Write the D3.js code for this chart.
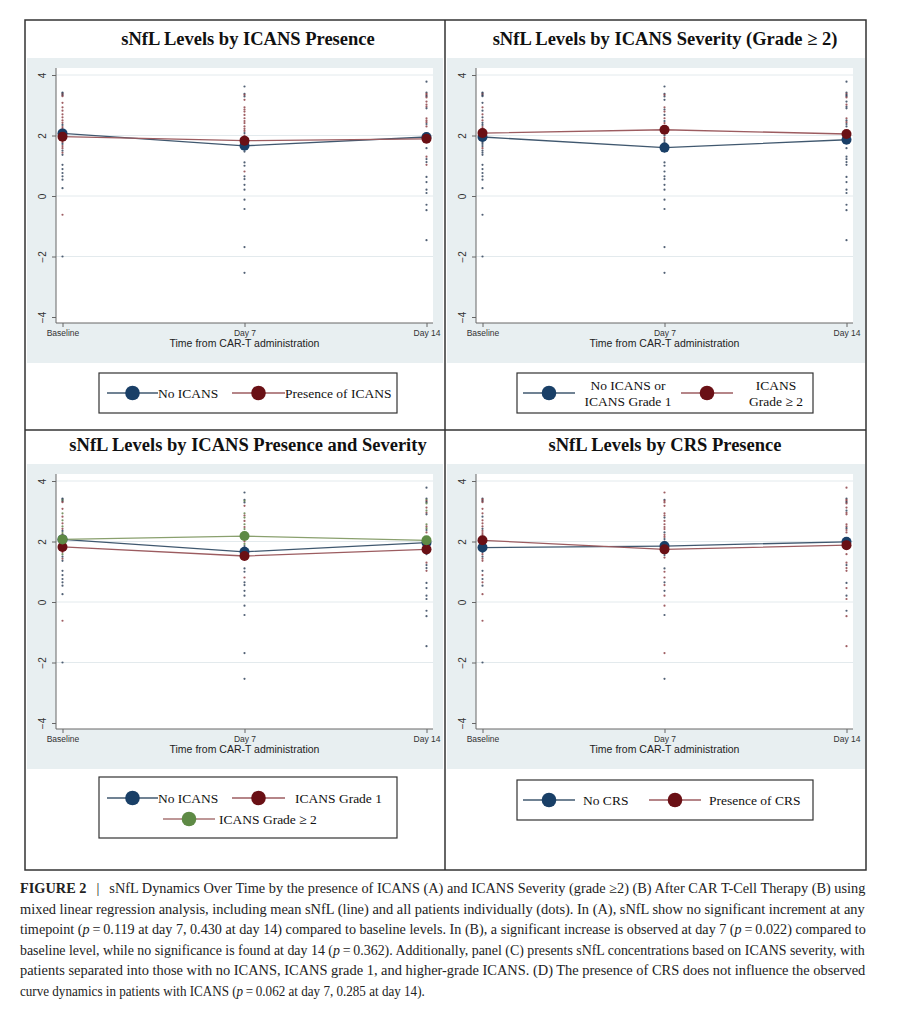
<!DOCTYPE html>
<html>
<head>
<meta charset="utf-8">
<script src="https://cdn.jsdelivr.net/npm/d3@7"></script>
<style>
  body { margin: 0; background: #fff; }
  svg { display: block; }
</style>
</head>
<body>
<svg id="fig" width="906" height="1013"></svg>
<script>
// ---- data ----
const timepoints = ["Baseline", "Day 7", "Day 14"];
const yTicks = [4, 2, 0, -2, -4];

// individual patients (dots), log sNfL at each timepoint
const dotsBaseline = [3.42, 3.39, 3.36, 3.33, 3.30, 3.08, 2.93, 2.82, 2.70, 2.60, 2.50, 2.42, 2.35, 2.28, 2.22, 2.16, 2.10, 2.05, 2.00, 1.95, 1.90, 1.84, 1.78, 1.72, 1.65, 1.58, 1.50, 1.43, 1.36, 1.03, 0.89, 0.76, 0.65, 0.54, 0.26, -0.62, -2.00];
const dotsDay7 = [3.62, 3.38, 3.34, 3.29, 3.18, 2.93, 2.86, 2.79, 2.68, 2.57, 2.48, 2.41, 2.30, 2.22, 2.15, 2.08, 2.00, 1.92, 1.85, 1.78, 1.70, 1.62, 1.55, 1.47, 1.11, 1.00, 0.81, 0.65, 0.56, 0.37, 0.21, -0.12, -0.43, -1.69, -2.54];
const dotsDay14 = [3.78, 3.42, 3.38, 3.34, 3.30, 3.26, 3.12, 3.02, 2.95, 2.90, 2.57, 2.50, 2.44, 2.38, 2.30, 2.08, 2.02, 1.96, 1.90, 1.86, 1.58, 1.30, 1.22, 1.12, 1.03, 0.63, 0.46, 0.21, 0.10, -0.29, -0.47, -1.46];

// ICANS grade of each dot (0 none, 1 grade 1, 2 grade >= 2)
const icansBaseline = [0,0,2,0,1, 1,2,1,2,1, 2,1,0,2,1, 0,1,2,0,1, 0,2,1,0,1, 2,0,1,0, 0,0,0,0,0,0, 1,0];
const icansDay7 = [0,0,2,0,1, 2,1,2,1,2, 1,2,2,1,2, 0,1,2,0,1, 0,1,0,0, 0,0,1,0,0,0,0, 0,0,0,0];
const icansDay14 = [0,0,2,1,0, 2,1,2,1,0, 2,1,2,0,1, 0,2,1,0,2, 0,1,0,0,1, 0,0,0,0,0,0, 0];
// CRS of each dot (0 no, 1 yes)
const crsBaseline = [0,1,1,0,1, 1,1,0,1,1, 1,0,1,1,1, 0,1,1,0,1, 0,1,1,1,0, 1,0,1,1, 0,1,0,1,0,1, 1,0];
const crsDay7 = [1,0,1,1,1, 1,1,0,1,1, 1,1,0,1,1, 0,1,1,1,0, 1,1,0,1, 0,1,1,0,1,0,1, 1,0,1,0];
const crsDay14 = [1,0,1,1,0, 1,1,0,1,1, 1,1,0,1,1, 0,1,1,1,0, 1,1,0,1,1, 0,1,0,1,0,1, 1];

// group means (lines)
const meanNoIcans   = [2.07, 1.66, 1.95];
const meanIcans     = [1.96, 1.83, 1.89];
const meanLowGrade  = [1.95, 1.60, 1.86];
const meanHighGrade = [2.08, 2.19, 2.05];
const meanNoIcansC  = [2.07, 1.66, 1.96];
const meanGrade1    = [1.82, 1.52, 1.74];
const meanGrade2    = [2.07, 2.18, 2.04];
const meanNoCrs     = [1.80, 1.85, 1.99];
const meanCrs       = [2.04, 1.74, 1.88];

const captionLines = [
  [["FIGURE 2", "b"], ["\u2002\u2009|\u2002\u2009sNfL Dynamics Over Time by the presence of ICANS (A) and ICANS Severity (grade \u22652) (B) After CAR T-Cell Therapy (B) using", ""]],
  [["mixed linear regression analysis, including mean sNfL (line) and all patients individually (dots). In (A), sNfL show no significant increment at any", ""]],
  [["timepoint (", ""], ["p", "i"], ["\u2009=\u20090.119 at day 7, 0.430 at day 14) compared to baseline levels. In (B), a significant increase is observed at day 7 (", ""], ["p", "i"], ["\u2009=\u20090.022) compared to", ""]],
  [["baseline level, while no significance is found at day 14 (", ""], ["p", "i"], ["\u2009=\u20090.362). Additionally, panel (C) presents sNfL concentrations based on ICANS severity, with", ""]],
  [["patients separated into those with no ICANS, ICANS grade 1, and higher-grade ICANS. (D) The presence of CRS does not influence the observed", ""]],
  [["curve dynamics in patients with ICANS (", ""], ["p", "i"], ["\u2009=\u20090.062 at day 7, 0.285 at day 14).", ""]]
];
// width each caption line takes in the figure
const captionWidths = [846, 846, 846, 846, 846, 405];

// ---- styles ----
const palette = {
  navy:   { line: "#40586f", marker: "#193f67", dot: "#33445c" },
  maroon: { line: "#9c5c60", marker: "#6a1015", dot: "#8e4248" },
  green:  { line: "#8aa06e", marker: "#5e8a45", dot: "#62824a" }
};
const bandColor = "#e8eff1";
const plotW = 377;

const dots = [];
[dotsBaseline, dotsDay7, dotsDay14].forEach((vals, t) => {
  const ic = [icansBaseline, icansDay7, icansDay14][t];
  const cr = [crsBaseline, crsDay7, crsDay14][t];
  vals.forEach((v, i) => dots.push({ t: timepoints[t], v: v, icans: ic[i], crs: cr[i] }));
});

const panels = [
  { title: "sNfL Levels by ICANS Presence", titleX: 248, titleY: 45,
    bandX0: 27, bandX1: 443, bandTop: 58, axisX: 56,
    series: [{ values: meanNoIcans, c: "navy" }, { values: meanIcans, c: "maroon" }],
    dotColor: d => d.icans > 0 ? "maroon" : "navy",
    legend: { x: 99, y: 373, w: 298, h: 40, items: [
      { c: "navy", lx0: 107, lx1: 158, cy: 393, text: ["No ICANS"], tx: 158, anchor: "start" },
      { c: "maroon", lx0: 232, lx1: 285, cy: 393, text: ["Presence of ICANS"], tx: 285, anchor: "start" } ] } },
  { title: "sNfL Levels by ICANS Severity (Grade \u2265 2)", titleX: 665, titleY: 45,
    bandX0: 447, bandX1: 865, bandTop: 58, axisX: 476,
    series: [{ values: meanLowGrade, c: "navy" }, { values: meanHighGrade, c: "maroon" }],
    dotColor: d => d.icans === 2 ? "maroon" : "navy",
    legend: { x: 517, y: 373, w: 296, h: 40, items: [
      { c: "navy", lx0: 523, lx1: 575, cy: 393, text: ["No ICANS or", "ICANS Grade 1"], tx: 628, anchor: "middle" },
      { c: "maroon", lx0: 681, lx1: 733, cy: 393, text: ["ICANS", "Grade \u2265 2"], tx: 776, anchor: "middle" } ] } },
  { title: "sNfL Levels by ICANS Presence and Severity", titleX: 248, titleY: 451,
    bandX0: 27, bandX1: 443, bandTop: 464, axisX: 56,
    series: [{ values: meanNoIcansC, c: "navy" }, { values: meanGrade1, c: "maroon" }, { values: meanGrade2, c: "green" }],
    dotColor: d => ["navy", "maroon", "green"][d.icans],
    legend: { x: 99, y: 777, w: 298, h: 61, items: [
      { c: "navy", lx0: 107, lx1: 158, cy: 798, text: ["No ICANS"], tx: 158, anchor: "start" },
      { c: "maroon", lx0: 232, lx1: 285, cy: 798, text: ["ICANS Grade 1"], tx: 295, anchor: "start" },
      { c: "green", lx0: 163, lx1: 215, cy: 819, text: ["ICANS Grade \u2265 2"], tx: 219, anchor: "start", lineColor: "#a87474" } ] } },
  { title: "sNfL Levels by CRS Presence", titleX: 665, titleY: 451,
    bandX0: 447, bandX1: 865, bandTop: 464, axisX: 476,
    series: [{ values: meanNoCrs, c: "navy" }, { values: meanCrs, c: "maroon" }],
    dotColor: d => d.crs ? "maroon" : "navy",
    legend: { x: 517, y: 780, w: 296, h: 40, items: [
      { c: "navy", lx0: 523, lx1: 575, cy: 800, text: ["No CRS"], tx: 583, anchor: "start" },
      { c: "maroon", lx0: 649, lx1: 701, cy: 800, text: ["Presence of CRS"], tx: 709, anchor: "start" } ] } }
];

const svg = d3.select("#fig");
svg.append("rect").attr("width", 906).attr("height", 1013).attr("fill", "#fff");

panels.forEach(p => {
  const g = svg.append("g");
  const top = p.bandTop;

  // title
  g.append("text")
    .attr("x", p.titleX).attr("y", p.titleY)
    .attr("text-anchor", "middle")
    .style("font-family", "'Liberation Serif', serif")
    .style("font-weight", "bold").style("font-size", "18.5px")
    .attr("fill", "#111")
    .text(p.title);

  // graph region band + white plot region
  g.append("rect").attr("x", p.bandX0).attr("y", top)
    .attr("width", p.bandX1 - p.bandX0).attr("height", 305).attr("fill", bandColor);
  g.append("rect").attr("x", p.axisX).attr("y", top + 10)
    .attr("width", plotW).attr("height", 255).attr("fill", "#fff");

  const x = d3.scalePoint().domain(timepoints).range([p.axisX + 6.5, p.axisX + plotW - 6.5]);
  const y = d3.scaleLinear().domain([-4, 4]).range([top + 259, top + 17]);

  // gridlines
  g.append("g").selectAll("line").data([4, 2, 0, -2]).join("line")
    .attr("x1", p.axisX).attr("x2", p.axisX + plotW)
    .attr("y1", d => y(d)).attr("y2", d => y(d))
    .attr("stroke", "#e3eaed").attr("stroke-width", 1);

  // axes
  const yAxis = g.append("g").attr("transform", `translate(${p.axisX},0)`)
    .call(d3.axisLeft(y).tickValues(yTicks).tickSize(4).tickSizeOuter(0).tickFormat(d3.format("d")));
  yAxis.select(".domain").remove();
  yAxis.selectAll("line").attr("stroke", "#666");
  yAxis.selectAll("text")
    .attr("x", null).attr("y", null).attr("dy", null)
    .attr("transform", "translate(-13.5,0) rotate(-90)")
    .attr("text-anchor", "middle").attr("dominant-baseline", "central")
    .style("font-family", "'Liberation Sans', Arial, sans-serif").style("font-size", "10px")
    .attr("fill", "#333");
  g.append("line").attr("x1", p.axisX).attr("x2", p.axisX)
    .attr("y1", top + 10).attr("y2", top + 265).attr("stroke", "#666");

  const xAxis = g.append("g").attr("transform", `translate(0,${top + 265})`)
    .call(d3.axisBottom(x).tickSize(4).tickSizeOuter(0));
  xAxis.select(".domain").remove();
  xAxis.selectAll("line").attr("stroke", "#666");
  xAxis.selectAll("text")
    .attr("y", 13).attr("dy", null)
    .style("font-family", "'Liberation Sans', Arial, sans-serif").style("font-size", "8.5px")
    .attr("fill", "#333");
  g.append("line").attr("x1", p.axisX).attr("x2", p.axisX + plotW)
    .attr("y1", top + 265).attr("y2", top + 265).attr("stroke", "#666");

  g.append("text")
    .attr("x", p.axisX + plotW / 2).attr("y", top + 289)
    .attr("text-anchor", "middle")
    .style("font-family", "'Liberation Sans', Arial, sans-serif").style("font-size", "10.5px")
    .attr("fill", "#222")
    .text("Time from CAR-T administration");

  // individual dots
  g.append("g").selectAll("circle").data(dots).join("circle")
    .attr("cx", d => x(d.t)).attr("cy", d => y(d.v)).attr("r", 1.1)
    .attr("fill", d => palette[p.dotColor(d)].dot).attr("opacity", 0.85);

  // mean lines + markers
  const line = d3.line().x((d, i) => x(timepoints[i])).y(d => y(d));
  p.series.forEach(s => {
    g.append("path").datum(s.values).attr("d", line)
      .attr("fill", "none").attr("stroke", palette[s.c].line).attr("stroke-width", 1.3);
  });
  p.series.forEach(s => {
    g.append("g").selectAll("circle").data(s.values).join("circle")
      .attr("cx", (d, i) => x(timepoints[i])).attr("cy", d => y(d)).attr("r", 5)
      .attr("fill", palette[s.c].marker);
  });

  // legend
  const L = p.legend;
  const lg = g.append("g");
  lg.append("rect").attr("x", L.x).attr("y", L.y).attr("width", L.w).attr("height", L.h)
    .attr("fill", "#fff").attr("stroke", "#333").attr("stroke-width", 1.2);
  L.items.forEach(it => {
    lg.append("line").attr("x1", it.lx0).attr("x2", it.lx1).attr("y1", it.cy).attr("y2", it.cy)
      .attr("stroke", it.lineColor || palette[it.c].line).attr("stroke-width", 1.3);
    lg.append("circle").attr("cx", (it.lx0 + it.lx1) / 2).attr("cy", it.cy).attr("r", 7.3)
      .attr("fill", palette[it.c].marker);
    const t = lg.append("text").attr("text-anchor", it.anchor)
      .style("font-family", "'Liberation Serif', serif").style("font-size", "13.5px")
      .attr("fill", "#111");
    const n = it.text.length;
    it.text.forEach((s, k) => {
      t.append("tspan").attr("x", it.tx)
        .attr("y", it.cy + 4.5 + (k - (n - 1) / 2) * 16)
        .text(s);
    });
  });
});

// frame
const frame = svg.append("g").attr("stroke", "#333").attr("stroke-width", 1.5).attr("fill", "none");
frame.append("rect").attr("x", 25).attr("y", 20).attr("width", 841).attr("height", 850);
frame.append("line").attr("x1", 445).attr("x2", 445).attr("y1", 20).attr("y2", 870);
frame.append("line").attr("x1", 25).attr("x2", 866).attr("y1", 430).attr("y2", 430);

// caption: each line squeezed horizontally to the width it has in the figure
const cap = svg.append("g")
  .style("font-family", "'Liberation Serif', serif").style("font-size", "14px")
  .attr("fill", "#222");
captionLines.forEach((segs, i) => {
  const t = cap.append("text").attr("x", 0).attr("y", 0);
  segs.forEach(([s, st]) => {
    const ts = t.append("tspan").text(s);
    if (st === "b") ts.style("font-weight", "bold");
    if (st === "i") ts.style("font-style", "italic");
  });
  const w = t.node().getComputedTextLength();
  t.attr("transform", `translate(20,${893 + i * 20.5}) scale(${captionWidths[i] / w},1)`);
});
</script>
</body>
</html>
